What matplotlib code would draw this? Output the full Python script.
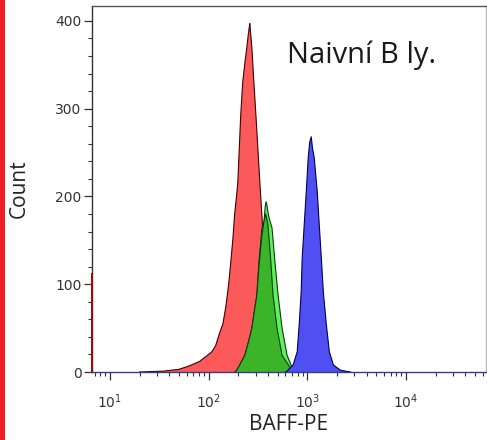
import matplotlib
matplotlib.use("Agg")
import matplotlib.pyplot as plt
from matplotlib.ticker import LogLocator, FixedLocator, MultipleLocator, NullFormatter
from matplotlib.patches import Rectangle

# BAFF-PE intensity (channel value) and event counts for each overlay
red_val = [20, 35, 50, 64, 81, 95, 108, 118, 130, 140, 150, 160, 168, 176, 184, 192,
           198, 205, 212, 222, 235, 244, 253, 258, 262, 266, 270, 275, 288, 302, 316,
           331, 347, 373, 400, 440, 490, 560, 650]
red_cnt = [0, 1, 3, 7, 12, 18, 23, 30, 45, 55, 75, 100, 125, 150, 180, 200,
           216, 255, 293, 330, 355, 369, 385, 392, 397, 388, 380, 369, 330, 293, 255,
           216, 179, 120, 75, 35, 12, 3, 0]
red_offscale = 113

lime_val = [185, 193, 207, 233, 255, 275, 292, 309, 324, 347, 365, 375, 383, 391, 400,
            412, 440, 471, 506, 556, 625, 703, 791]
lime_cnt = [0, 2, 8, 19, 35, 50, 70, 88, 125, 164, 172, 188, 194, 190, 182,
            175, 164, 125, 88, 50, 19, 5, 0]

green_val = [185, 193, 207, 233, 255, 275, 292, 309, 324, 347, 365, 380, 400, 425,
             450, 494, 556, 671, 740]
green_cnt = [0, 2, 8, 19, 35, 50, 70, 88, 120, 155, 172, 180, 168, 130,
             88, 50, 19, 5, 0]

blue_val = [600, 625, 719, 791, 829, 868, 889, 931, 977, 1023, 1060, 1098, 1130, 1178,
            1264, 1325, 1389, 1456, 1562, 1675, 1841, 2172, 2748]
blue_cnt = [0, 1, 8, 23, 54, 91, 130, 167, 205, 244, 262, 268, 255, 244,
            205, 167, 130, 91, 54, 23, 8, 2, 0]

y_major = [0, 100, 200, 300, 400]
x_major = [10, 100, 1000, 10000]
x_labels = [r"$10^{1}$", r"$10^{2}$", r"$10^{3}$", r"$10^{4}$"]

fig = plt.figure(figsize=(4.87, 4.40), dpi=100)
fig.patch.set_facecolor("white")

# red stripe along the left margin
fig.add_artist(Rectangle((0, 0), 5 / 487, 1, transform=fig.transFigure,
                         facecolor="#ee1c25", edgecolor="none"))

ax = fig.add_axes([92 / 487, 68 / 440, 394 / 487, 366 / 440])
ax.set_xscale("log")
ax.set_xlim(6.6, 64700)
ax.set_ylim(0, 417)

layers = [
    (red_val, red_cnt, "#fc5a5a", "#400000", 2),
    (lime_val, lime_cnt, "#5cf25c", "#0c3a0c", 3),
    (green_val, green_cnt, "#3cb42a", "#0c3a0c", 4),
    (blue_val, blue_cnt, "#5050f2", "#000050", 5),
]
for vals, cnts, fc, ec, z in layers:
    ax.fill_between(vals, cnts, 0, facecolor=fc, edgecolor="none", zorder=z)
    ax.plot(vals, cnts, color=ec, lw=0.8, zorder=z + 0.5)

# events piled up at the lower edge of the scale
ax.vlines(ax.get_xlim()[0], 0, red_offscale, color="#b00000", lw=1.4, zorder=6,
          clip_on=False)

ax.spines["left"].set_color("#333333")
ax.spines["top"].set_color("#555555")
ax.spines["right"].set_color("#bbbbbb")
ax.spines["bottom"].set_color("#3a3a8a")
for s in ax.spines.values():
    s.set_linewidth(1.0)
ax.spines["bottom"].set_zorder(7)

ax.yaxis.set_major_locator(FixedLocator(y_major))
ax.yaxis.set_minor_locator(MultipleLocator(20))
ax.xaxis.set_major_locator(FixedLocator(x_major))
ax.set_xticklabels(x_labels)
ax.xaxis.set_minor_locator(LogLocator(base=10, subs=range(2, 10), numticks=20))
ax.xaxis.set_minor_formatter(NullFormatter())

ax.tick_params(axis="both", which="major", direction="out", length=5.5, width=0.9,
               color="#333333", labelsize=10, labelcolor="#333333")
ax.tick_params(axis="both", which="minor", direction="out", length=2.8, width=0.8,
               color="#333333")
ax.tick_params(axis="y", which="major", pad=2)
ax.tick_params(axis="x", which="major", pad=9)
for lab in ax.get_xticklabels() + ax.get_yticklabels():
    lab.set_family("DejaVu Sans")

ax.set_xlabel("BAFF-PE", family="Open Sans", fontsize=15, color="#222222", labelpad=2)
ax.set_ylabel("Count", family="Open Sans", fontsize=15, color="#222222", labelpad=18)

ax.text(0.495, 0.844, "Naivní B ly.", transform=ax.transAxes, family="Open Sans",
        fontsize=21, color="#1a1a1a", ha="left", va="baseline", zorder=8)

fig.savefig("out.png", dpi=100, facecolor="white")
